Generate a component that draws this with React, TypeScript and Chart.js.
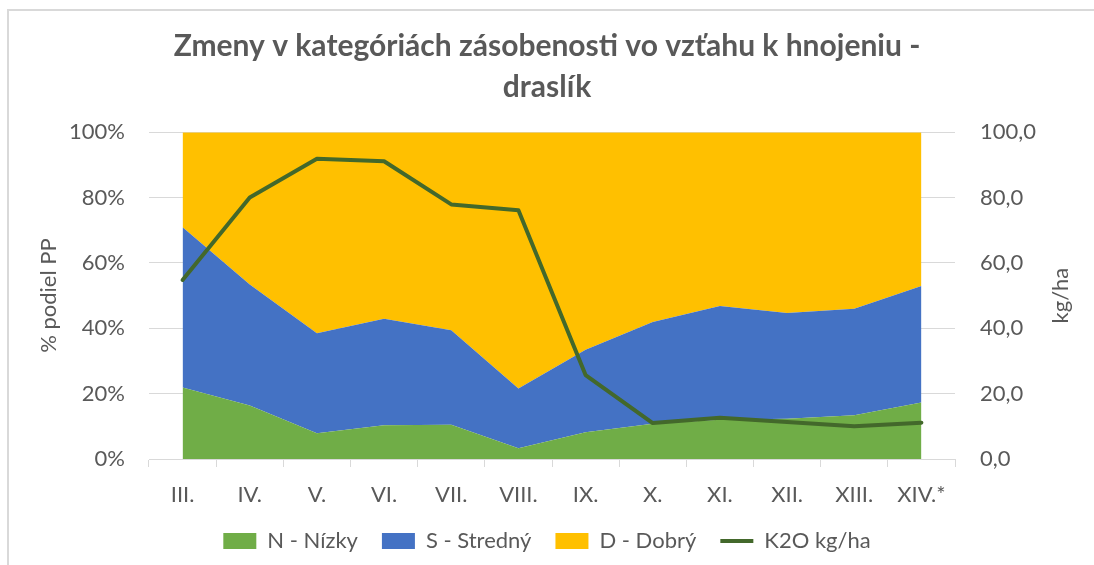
import React, { useEffect, useRef } from "react";
import { Chart, registerables } from "chart.js";

Chart.register(...registerables);

const categories = ["III.", "IV.", "V.", "VI.", "VII.", "VIII.", "IX.", "X.", "XI.", "XII.", "XIII.", "XIV.*"];
const nizky = [21.9, 16.4, 7.9, 10.3, 10.5, 3.3, 8.2, 10.8, 12.0, 12.3, 13.4, 17.3];
const stredny = [49.0, 37.0, 30.6, 32.6, 28.9, 18.3, 25.2, 31.1, 34.8, 32.4, 32.6, 35.6];
const dobry = [29.1, 46.6, 61.5, 57.1, 60.6, 78.4, 66.6, 58.1, 53.2, 55.3, 54.0, 47.1];
const k2o = [54.8, 80.0, 91.9, 91.1, 77.9, 76.1, 25.7, 11.0, 12.6, 11.3, 10.0, 11.1];

const TEXT = "#595959";
const GRID = "#D9D9D9";
const FONT = "Lato, 'Open Sans', sans-serif";

const rightTitlePlugin = {
  id: "rightTitle",
  afterDraw(chart: any) {
    const ctx = chart.ctx;
    const area = chart.chartArea;
    ctx.save();
    ctx.fillStyle = TEXT;
    ctx.font = `22px ${FONT}`;
    ctx.textAlign = "center";
    ctx.textBaseline = "middle";
    ctx.translate(1061, (area.top + area.bottom) / 2);
    ctx.rotate(-Math.PI / 2);
    ctx.fillText("kg/ha", 0, 0);
    ctx.restore();
  },
};

export default function App() {
  const ref = useRef<HTMLCanvasElement | null>(null);

  useEffect(() => {
    if (!ref.current) return;
    const chart = new Chart(ref.current, {
      type: "line",
      data: {
        labels: categories,
        datasets: [
          {
            label: "N - Nízky",
            data: nizky,
            backgroundColor: "#70AD47",
            borderColor: "#70AD47",
            borderWidth: 0,
            pointRadius: 0,
            fill: "origin",
            yAxisID: "y",
            order: 1,
            pointStyle: "rect",
          } as any,
          {
            label: "S - Stredný",
            data: stredny,
            backgroundColor: "#4472C4",
            borderColor: "#4472C4",
            borderWidth: 0,
            pointRadius: 0,
            fill: "-1",
            yAxisID: "y",
            order: 1,
            pointStyle: "rect",
          },
          {
            label: "D - Dobrý",
            data: dobry,
            backgroundColor: "#FFC000",
            borderColor: "#FFC000",
            borderWidth: 0,
            pointRadius: 0,
            fill: "-1",
            yAxisID: "y",
            order: 1,
            pointStyle: "rect",
          },
          {
            label: "K2O kg/ha",
            data: k2o,
            backgroundColor: "#43682B",
            borderColor: "#43682B",
            borderWidth: 4,
            pointRadius: 0,
            fill: false,
            yAxisID: "y1",
            order: 0,
            pointStyle: "line",
            borderCapStyle: "round",
            borderJoinStyle: "round",
          },
        ],
      },
      options: {
        animation: false,
        responsive: false,
        maintainAspectRatio: false,
        layout: { padding: { left: 0, right: 0, top: 0, bottom: 3 } },
        plugins: {
          title: {
            display: true,
            text: ["Zmeny v kategóriách zásobenosti vo vzťahu k hnojeniu -", "draslík"],
            color: TEXT,
            font: { family: FONT, size: 30, weight: "bold", lineHeight: 1.37 },
            padding: { top: 26, bottom: 24 },
          },
          legend: {
            display: true,
            position: "bottom",
            labels: {
              usePointStyle: true,
              pointStyleWidth: 33,
              boxHeight: 16,
              color: TEXT,
              font: { family: FONT, size: 22 },
              padding: 24,
              sort: (a: any, b: any) => a.datasetIndex - b.datasetIndex,
            },
          },
          tooltip: { enabled: false },
        },
        scales: {
          x: {
            offset: true,
            grid: {
              offset: true,
              drawOnChartArea: false,
              drawTicks: true,
              tickLength: 8,
              color: GRID,
            },
            border: { display: true, color: GRID, width: 1 },
            ticks: { color: TEXT, font: { family: FONT, size: 22 }, padding: 15, maxRotation: 0 },
            afterFit(scale: any) {
              scale.height = 47;
            },
          },
          y: {
            stacked: true,
            min: 0,
            max: 100,
            position: "left",
            grid: { color: GRID, drawTicks: false },
            border: { display: false },
            ticks: {
              stepSize: 20,
              color: TEXT,
              font: { family: FONT, size: 22 },
              padding: 24,
              callback: (v: any) => `${v}%`,
            },
            title: {
              display: true,
              text: "% podiel PP",
              color: TEXT,
              font: { family: FONT, size: 22 },
              padding: { top: 36, bottom: 0 },
            },
            afterFit(scale: any) {
              scale.width = 149;
            },
          },
          y1: {
            min: 0,
            max: 100,
            position: "right",
            grid: { drawOnChartArea: false, drawTicks: false },
            border: { display: false },
            ticks: {
              stepSize: 20,
              color: TEXT,
              font: { family: FONT, size: 22 },
              padding: 25,
              callback: (v: any) => Number(v).toFixed(1).replace(".", ","),
            },
            afterFit(scale: any) {
              scale.width = 139;
            },
          },
        },
      },
      plugins: [rightTitlePlugin],
    });
    return () => chart.destroy();
  }, []);

  return (
    <div style={{ position: "absolute", left: 0, top: 0, width: 1094, height: 565, background: "#fff" }}>
      <div
        style={{
          position: "absolute",
          left: 7,
          top: 9,
          width: 1200,
          height: 700,
          borderTop: "2px solid #D9D9D9",
          borderLeft: "2px solid #D9D9D9",
          boxSizing: "border-box",
          pointerEvents: "none",
        }}
      />
      <canvas ref={ref} width={1094} height={565} style={{ position: "absolute", left: 0, top: 0 }} />
    </div>
  );
}
